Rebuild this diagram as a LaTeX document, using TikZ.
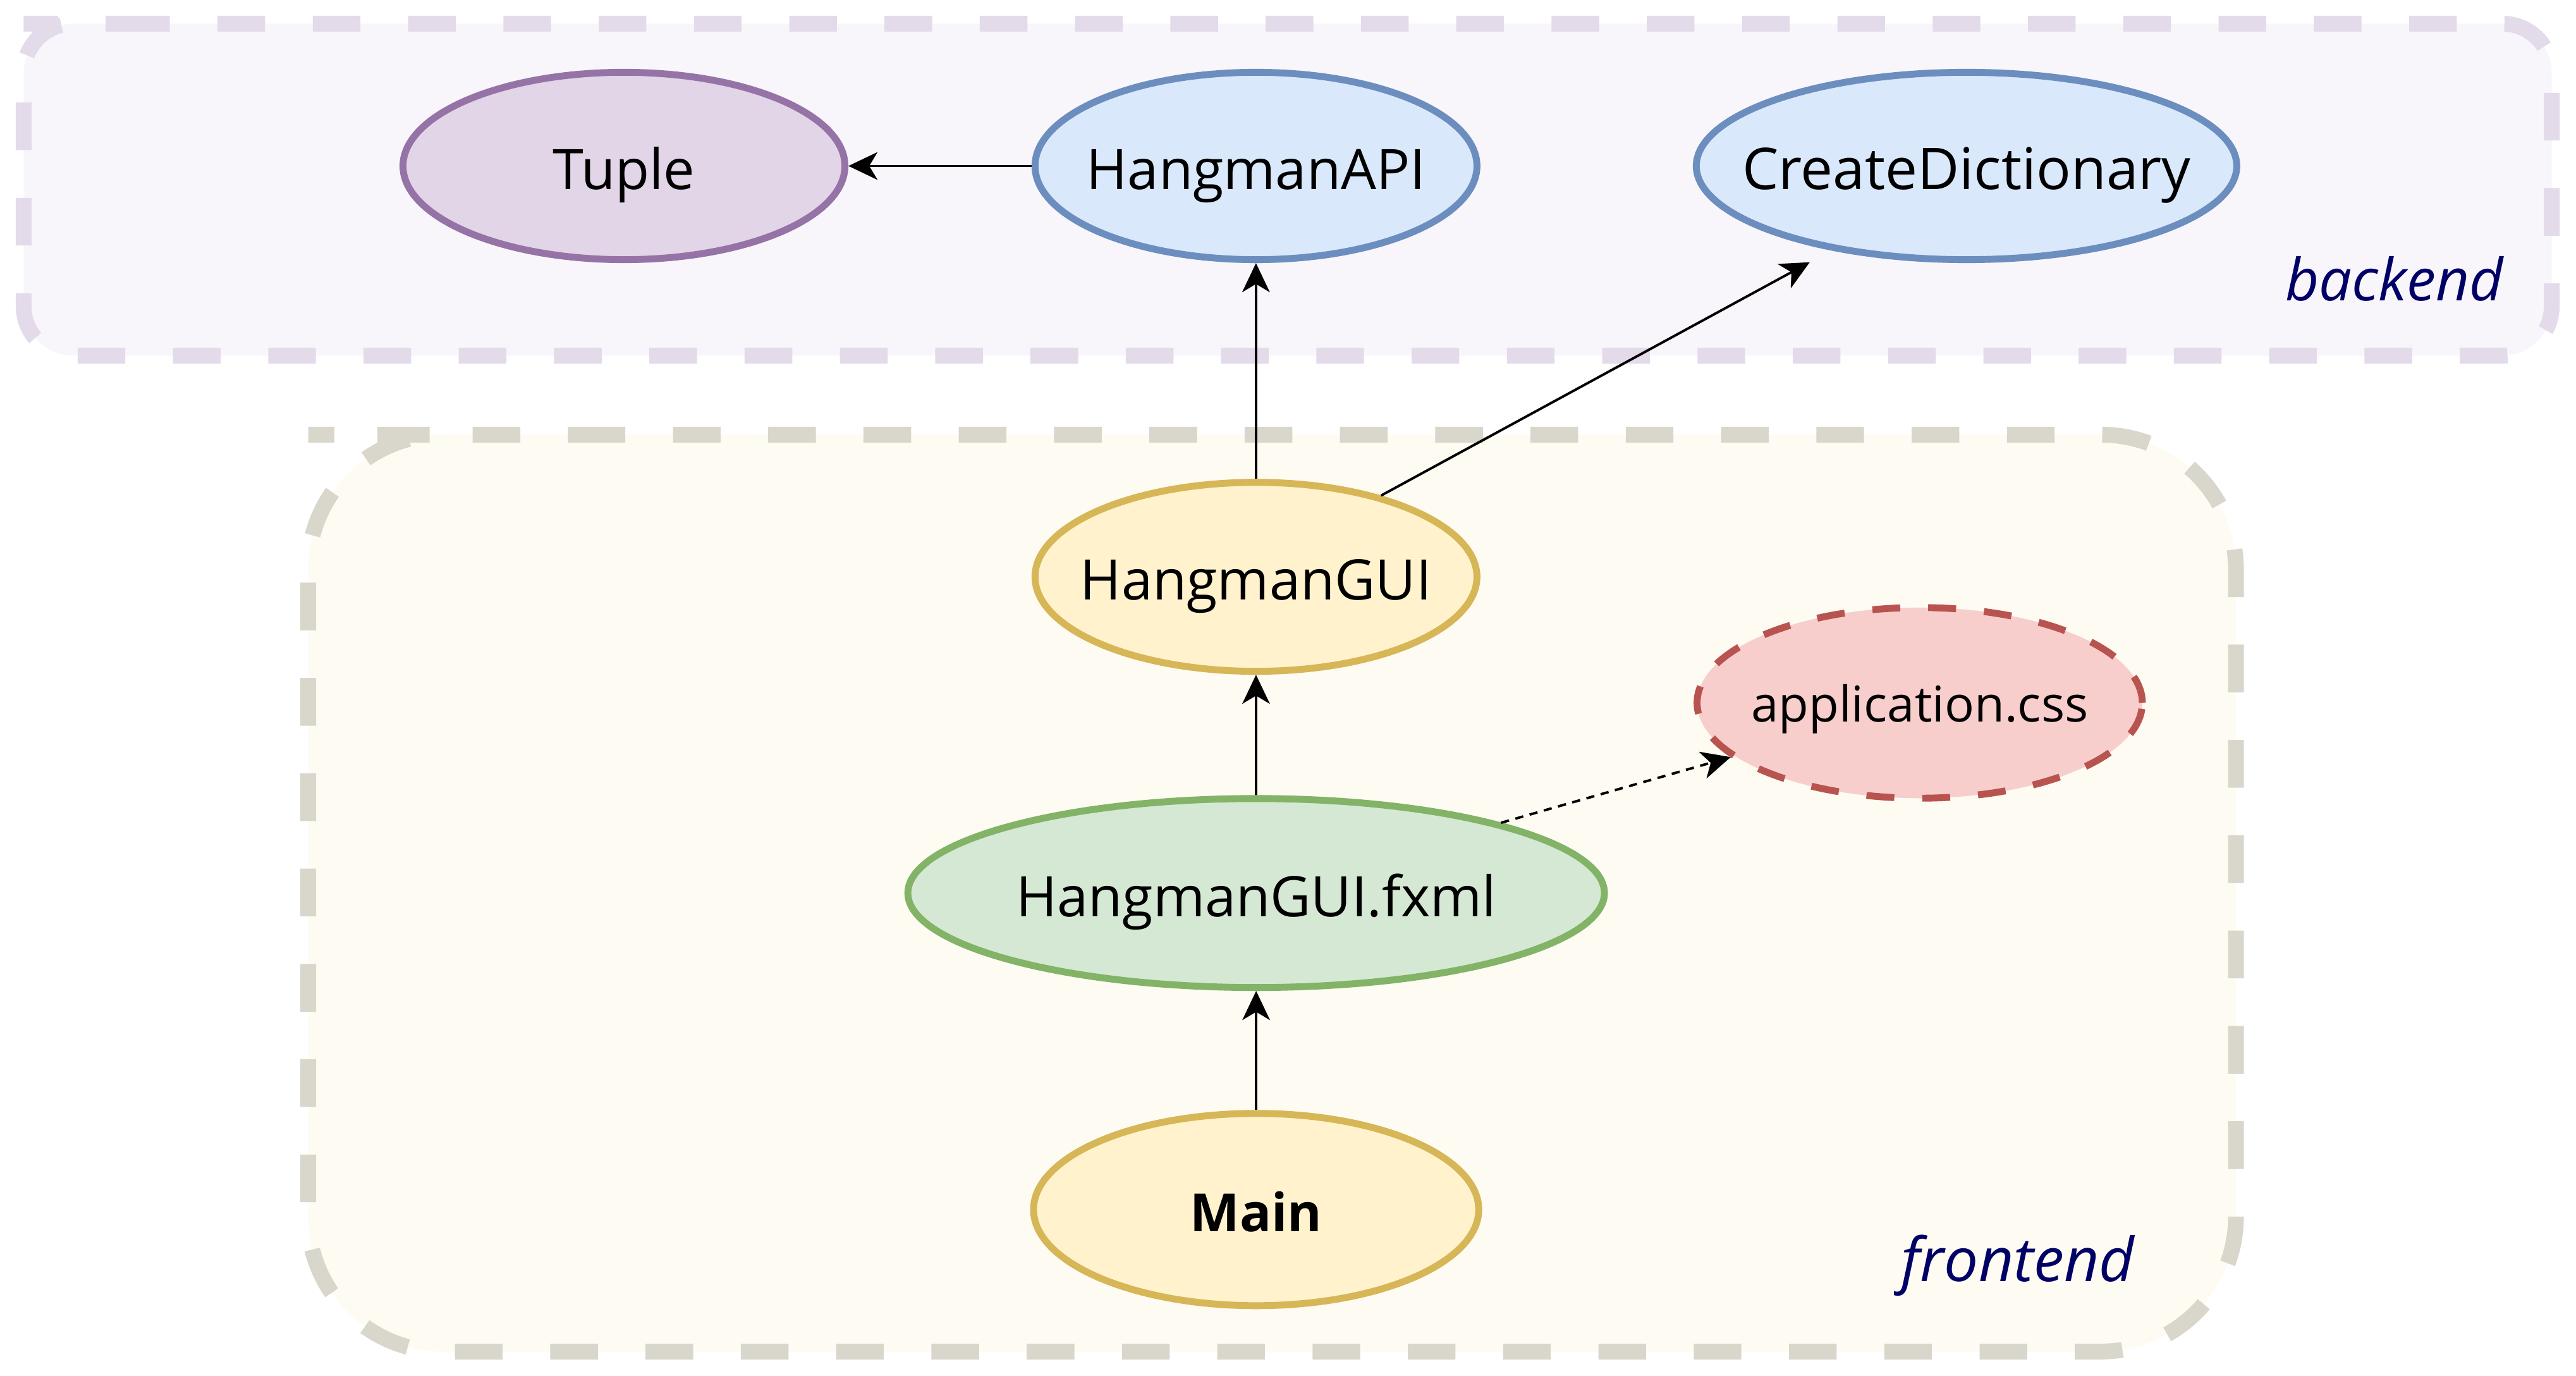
\documentclass[tikz,border=0pt]{standalone}
\usepackage{fontspec}
\setmainfont{Open Sans}
\usetikzlibrary{arrows.meta,shapes.geometric}
\definecolor{bkfill}{HTML}{F8F6FA}
\definecolor{bkline}{HTML}{E3DAEA}
\definecolor{frfill}{HTML}{FEFBF3}
\definecolor{frline}{HTML}{D9D6CC}
\definecolor{purfill}{HTML}{E1D5E7}
\definecolor{purline}{HTML}{9673A6}
\definecolor{bluefill}{HTML}{DAE8FC}
\definecolor{blueline}{HTML}{6C8EBF}
\definecolor{yelfill}{HTML}{FFF2CC}
\definecolor{yelline}{HTML}{D6B656}
\definecolor{grnfill}{HTML}{D5E8D4}
\definecolor{grnline}{HTML}{82B366}
\definecolor{redfill}{HTML}{F8CECC}
\definecolor{redline}{HTML}{B85450}
\definecolor{navy}{HTML}{000066}
\tikzset{
  groupbox/.style={line width=9.6pt, dash pattern=on 29pt off 29pt},
  ell/.style={ellipse, draw, line width=4.2pt, inner sep=0pt,
    minimum width=269pt, minimum height=114pt,
    font=\fontsize{34}{40}\selectfont, text height=28.3pt, text depth=0pt},
  arr/.style={line width=1.5pt, -{Stealth[length=17.7pt,width=16.8pt,inset=5pt]}},
  grouplabel/.style={anchor=base east, text=navy, inner sep=0pt}
}
\begin{document}
\begin{tikzpicture}[x=1pt,y=-1pt]
\useasboundingbox (0,0) rectangle (1568,837);
% group boxes
\draw[groupbox, fill=bkfill, draw=bkline, rounded corners=30pt]
  (44.4,14.4) -- (1553.2,14.4) -- (1553.2,216.4) -- (14.4,216.4) -- (14.4,14.4) -- cycle;
\draw[groupbox, fill=frfill, draw=frline, rounded corners=82pt]
  (269.6,264.5) -- (1361,264.5) -- (1361,822.4) -- (187.6,822.4) -- (187.6,264.5) -- cycle;
% nodes
\node[ell, fill=purfill, draw=purline] (tuple) at (379.8,101) {\makebox[0pt]{Tuple}};
\node[ell, fill=bluefill, draw=blueline] (api) at (764.5,101) {\makebox[0pt]{HangmanAPI}};
\node[ell, fill=bluefill, draw=blueline, minimum width=329pt,
  font=\fontsize{35}{41}\selectfont, text height=28.8pt] (cd) at (1197,101) {\makebox[0pt]{CreateDictionary}};
\node[ell, fill=yelfill, draw=yelline, minimum height=115pt] (hg) at (764.5,351) {\makebox[0pt]{HangmanGUI}};
\node[ell, fill=redfill, draw=redline, minimum width=271pt, minimum height=116pt,
  dash pattern=on 17pt off 17pt, font=\fontsize{30}{36}\selectfont, text height=23.4pt]
  (css) at (1168.5,427.7) {\makebox[0pt]{application.css}};
\node[ell, fill=grnfill, draw=grnline, minimum width=424pt, minimum height=115pt] (fxml) at (764.6,543.4) {\makebox[0pt]{HangmanGUI.fxml}};
\node[ell, fill=yelfill, draw=yelline, minimum width=271pt, minimum height=117pt,
  font=\fontsize{32}{38}\selectfont\bfseries, text height=26.4pt] (main) at (764.6,736) {\makebox[0pt]{Main}};
% group labels
\node[grouplabel, font=\fontsize{35.5}{42}\selectfont\itshape] (bklabel) at (1524,182.8) {backend};
\node[grouplabel, font=\fontsize{37}{44}\selectfont\itshape] (frlabel) at (1299.2,779.6) {frontend};
% connectors
\draw[arr] (api) -- (tuple);
\draw[arr] (hg) -- (api);
\draw[arr, shorten >=15pt] (hg.33) -- (cd.212);
\draw[arr] (fxml) -- (hg);
\draw[arr, dash pattern=on 5pt off 4pt] (fxml.16) -- (css.196);
\draw[arr] (main) -- (fxml);
\end{tikzpicture}
\end{document}
